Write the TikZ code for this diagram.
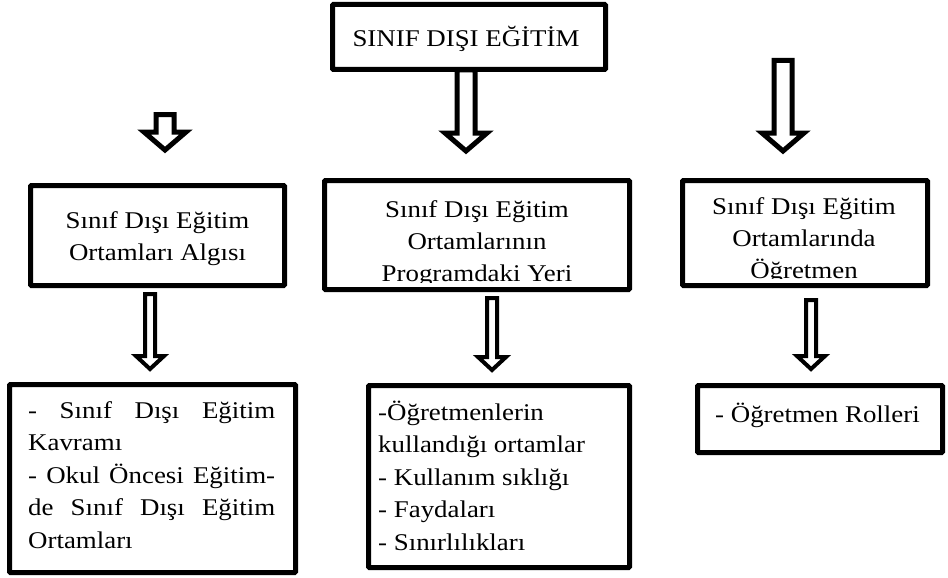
\documentclass[tikz,border=0pt]{standalone}
\usepackage{fontspec}
\setmainfont{Liberation Serif}[FakeStretch=1.12]
\usetikzlibrary{calc}

\tikzset{
  frame/.style={draw=black, line width=5pt, rounded corners=1pt, inner sep=0pt},
  txt/.style={inner sep=0pt, anchor=base, font=\fontsize{24}{32}\selectfont},
  listtxt/.style={txt, anchor=base west, font=\fontsize{24}{32.5}\selectfont},
}

% hollow block arrow pointing down: #1 top of shaft, #2 tip,
% #3 half shaft width, #4 half head width, #5 head length, #6 line width
\newcommand\blockdown[6]{%
  \draw[line width=#6, line join=miter, miter limit=10]
    let \p1=(#1), \p2=(#2) in
    (\x1-#3pt,\y1) -- (\x1-#3pt,\y2+#5pt) -- (\x1-#4pt,\y2+#5pt) -- (\x1,\y2)
    -- (\x1+#4pt,\y2+#5pt) -- (\x1+#3pt,\y2+#5pt) -- (\x1+#3pt,\y1) -- cycle;}

\begin{document}
\begin{tikzpicture}[x=1pt, y=-1pt]
\useasboundingbox (0,0) rectangle (948,578);

% boxes
\node[frame, minimum width=273pt, minimum height=65pt]  (top) at (469,37) {};
\node[frame, minimum width=254pt, minimum height=100pt] (ml)  at (157.5,235.5) {};
\node[frame, minimum width=305pt, minimum height=109pt] (mm)  at (477,235) {};
\node[frame, minimum width=245pt, minimum height=105pt] (mr)  at (805,233) {};
\node[frame, minimum width=286pt, minimum height=188pt] (bl)  at (152.5,478.5) {};
\node[frame, minimum width=261pt, minimum height=182pt] (bm)  at (499,476.5) {};
\node[frame, minimum width=245pt, minimum height=67pt]  (br)  at (820,419) {};

% texts
\node[txt] (toptext) at (466,47) {SINIF DIŞI EĞİTİM};
\node[txt] (mltext) at (157.5,228)
  {\parbox[t]{250pt}{\centering Sınıf Dışı Eğitim\\Ortamları Algısı}};
\begin{scope}
  \clip (327,183) rectangle (627,282);
  \node[txt] (mmtext) at (477,217)
    {\parbox[t]{300pt}{\centering Sınıf Dışı Eğitim\\Ortamlarının\\Programdaki Yeri}};
\end{scope}
\begin{scope}
  \clip (685,183) rectangle (925,278);
  \node[txt] (mrtext) at (804,214)
    {\parbox[t]{240pt}{\centering Sınıf Dışı Eğitim\\Ortamlarında\\Öğretmen}};
\end{scope}
\node[listtxt] (bltext) at (28,418)
  {\parbox[t]{247pt}{\makebox[247pt][s]{- Sınıf Dışı Eğitim}\\
   Kavramı\\
   \makebox[247pt][s]{- Okul Öncesi Eğitim-}\\
   \makebox[247pt][s]{de Sınıf Dışı Eğitim}\\
   Ortamları}};
\node[listtxt] (bmtext) at (378,420)
  {\parbox[t]{250pt}{-Öğretmenlerin\\kullandığı ortamlar\\- Kullanım sıklığı\\- Faydaları\\- Sınırlılıkları}};
\node[listtxt] (brtext) at (715,422) {- Öğretmen Rolleri};

% arrow end points
\coordinate (a1s) at (165,114.5); \coordinate (a1e) at (165,150);
\coordinate (a2s) at (466,70);    \coordinate (a2e) at (466,151);
\coordinate (a3s) at (783,60.5);  \coordinate (a3e) at (783,151);
\coordinate (b1s) at (150,294);   \coordinate (b1e) at (150,369);
\coordinate (b2s) at (492,298);   \coordinate (b2e) at (492,370);
\coordinate (b3s) at (811,300);   \coordinate (b3e) at (811,369);

% arrows
\blockdown{a1s}{a1e}{9}{21}{18}{5pt}
\blockdown{a2s}{a2e}{9}{21}{18}{5pt}
\blockdown{a3s}{a3e}{9}{21}{18}{5pt}
\blockdown{b1s}{b1e}{5}{14}{13}{4pt}
\blockdown{b2s}{b2e}{5}{14}{13}{4pt}
\blockdown{b3s}{b3e}{5}{14}{13}{4pt}
\end{tikzpicture}
\end{document}
